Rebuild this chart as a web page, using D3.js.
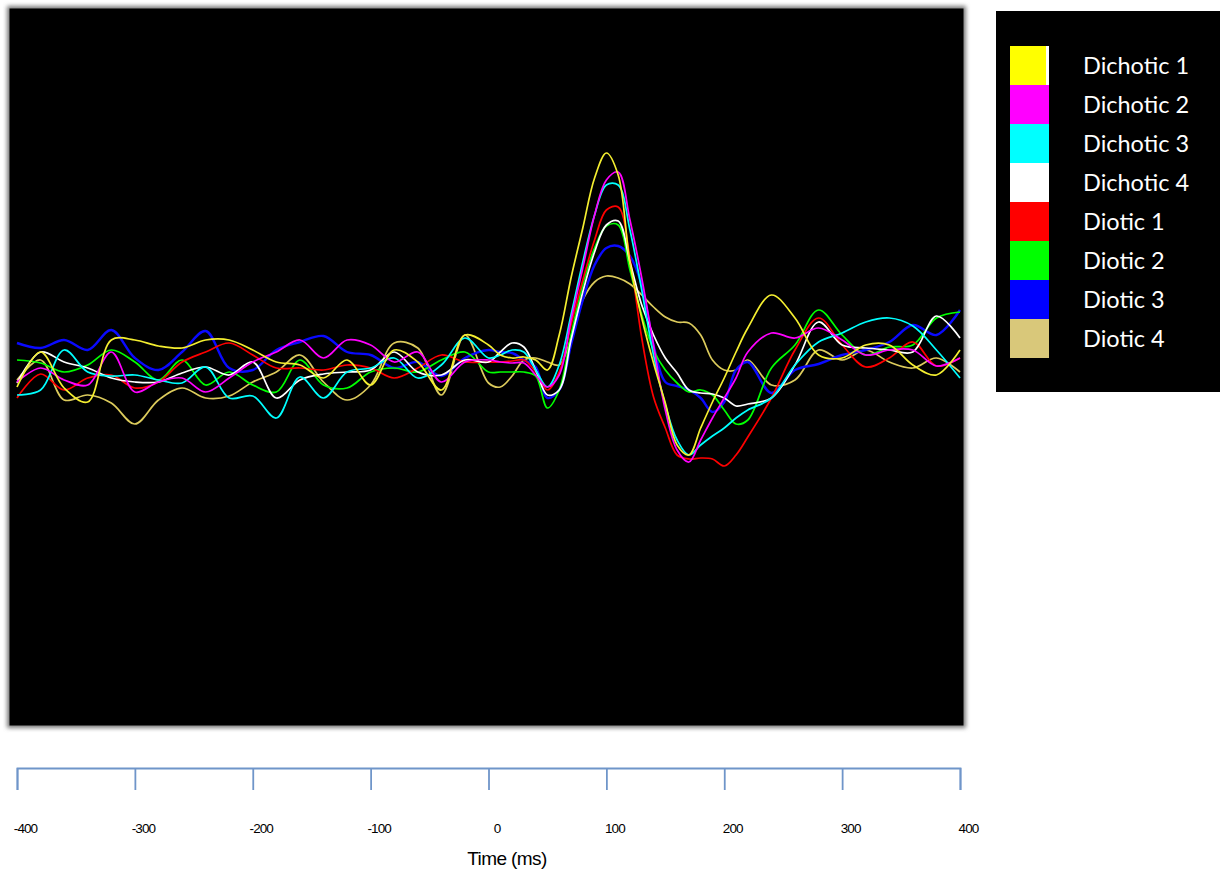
<!DOCTYPE html>
<html>
<head>
<meta charset="utf-8">
<script src="https://cdn.jsdelivr.net/npm/d3@7"></script>
<style>
  html, body { margin: 0; padding: 0; background: #ffffff; }
  svg { display: block; }
</style>
</head>
<body>
<svg id="chart" width="1226" height="873"></svg>
<script>
// ---------------- DATA ----------------
const times = [-400,-380,-360,-340,-320,-300,-280,-260,-240,-220,-200,-180,-160,-140,-120,-100,-80,-60,-40,-20,0,
  10,20,30,40,50,60,70,80,90,100,110,120,130,140,150,160,170,180,190,200,210,220,
  240,260,280,300,320,340,360,380,400];

const seriesNames = ["Dichotic 1","Dichotic 2","Dichotic 3","Dichotic 4","Diotic 1","Diotic 2","Diotic 3","Diotic 4"];

const dichotic1 = [-1.7,1.8,-1.8,-3.2,3.0,3.0,2.4,2.2,3.0,3.0,2.0,0.8,0.5,-0.8,1.0,-1.5,2.0,0.8,-2.0,3.5,2.5,
  1.5,1.2,1.3,1.0,0.0,3.5,9.2,14.2,19.2,21.7,19.5,10.7,5.2,0.7,-3.3,-7.5,-8.5,-5.8,-3.2,-0.8,1.8,4.2,
  7.5,5.2,1.5,1.2,2.5,2.5,0.5,-0.5,2.0];
const dichotic2 = [-1.2,0.2,-1.0,-1.5,1.8,-2.2,-1.2,-0.8,-2.2,-0.8,0.8,1.8,3.0,1.2,3.0,2.5,0.8,1.8,-1.2,0.8,1.0,
  0.8,0.7,0.7,-0.5,-1.7,-0.5,5.0,10.2,15.5,19.0,19.8,15.0,9.2,2.5,-4.0,-8.0,-9.2,-7.0,-4.8,-2.8,-0.8,1.8,
  3.7,3.2,4.2,3.0,1.5,2.0,2.0,0.4,1.2];
const dichotic3 = [-2.5,-2.0,2.0,-0.2,-0.6,-0.5,-1.0,-1.3,0.3,-2.8,-2.6,-4.8,-0.7,-2.8,-0.2,0.2,1.2,-0.8,0.5,3.2,1.2,
  1.5,2.0,1.8,0.0,-1.7,0.5,5.5,10.8,15.5,18.5,18.5,14.0,8.0,1.5,-3.5,-7.0,-8.5,-7.5,-6.6,-5.8,-4.8,-4.0,
  -2.8,0.5,2.8,3.7,4.8,5.2,4.4,2.0,-0.8];
const dichotic4 = [-1.3,1.8,0.8,0.2,-0.8,-1.2,-1.2,-0.3,0.3,-0.5,0.8,-2.8,-1.0,-0.4,-0.2,0.0,1.8,-0.2,-0.5,1.0,0.8,
  1.8,2.7,2.3,0.0,-2.5,-2.0,3.0,7.8,11.8,14.5,14.9,10.8,6.5,3.5,1.2,-0.3,-2.0,-2.3,-2.4,-2.8,-3.6,-3.4,
  -2.8,0.5,4.8,2.5,2.2,2.0,1.8,5.4,3.2];
const diotic1 = [-2.8,-0.4,-2.0,-0.8,-0.5,-1.8,-1.2,0.8,1.8,2.7,1.5,0.2,0.2,0.0,0.5,0.2,-0.8,0.2,1.5,0.8,0.8,
  0.8,0.9,1.0,-0.2,-2.0,-0.2,4.5,9.0,13.0,16.0,16.3,11.2,3.2,-2.7,-5.8,-8.5,-8.9,-8.8,-8.9,-9.6,-8.5,-6.7,
  -2.8,2.0,5.2,2.5,0.3,1.2,2.8,0.4,1.2];
const diotic2 = [1.0,0.7,-0.2,0.5,2.0,0.8,-1.0,1.0,-1.5,-0.2,-1.5,-2.2,1.0,-1.5,-1.8,-0.2,0.2,-0.2,1.0,1.8,-0.2,
  -0.2,-0.2,-0.2,-0.6,-3.8,-2.0,3.5,8.5,12.2,14.4,14.5,10.0,5.5,2.0,0.0,-1.3,-2.2,-2.0,-2.5,-4.0,-5.4,-5.0,
  0.2,2.5,6.0,3.5,1.5,2.3,2.5,5.2,5.8];
const diotic3 = [2.7,2.2,3.0,2.0,4.0,1.2,0.0,1.8,3.9,0.2,0.0,2.0,2.8,3.4,1.8,1.5,0.2,0.8,-0.6,1.2,2.0,
  1.8,1.7,1.0,0.3,-2.8,-2.0,2.5,7.0,10.5,12.2,12.4,11.4,8.5,2.5,-1.2,-1.6,-2.0,-2.8,-4.2,-3.2,0.0,0.8,
  -2.3,0.0,0.6,1.5,2.0,2.8,4.5,3.5,6.0];
const diotic4 = [-1.0,1.0,-3.0,-2.5,-3.3,-5.4,-3.0,-1.8,-2.8,-2.6,-1.2,-0.2,1.5,-1.2,-3.0,-1.5,2.7,2.2,-2.5,3.5,-1.3,
  -1.7,-0.6,1.0,1.2,0.8,0.5,3.2,7.0,8.8,9.4,9.2,8.6,7.5,6.3,5.3,4.8,4.7,3.5,1.0,0.0,0.0,1.0,
  -1.5,-1.0,2.0,1.0,2.0,0.8,0.2,1.2,-0.2];

const tickValues = [-400,-300,-200,-100,0,100,200,300,400];
const xLabel = "Time (ms)";

// ---------------- STYLE ----------------
const lineColors = ["#f4ee30","#ff00ff","#00ffff","#ffffff","#ff0000","#00ff00","#0a0aff","#dccb5c"];
const swatchColors = ["#ffff00","#ff00ff","#00ffff","#ffffff","#ff0000","#00ff00","#0000ff","#d9c87a"];

const allSeries = [dichotic1,dichotic2,dichotic3,dichotic4,diotic1,diotic2,diotic3,diotic4];

// ---------------- CHART ----------------
const svg = d3.select("#chart");
const plot = {x: 8, y: 7, w: 957, h: 720};

const x = d3.scaleLinear().domain([-400, 400]).range([17, 960]);
const y = d3.scaleLinear().domain([-35.7, 36.3]).range([727, 7]);

const defs = svg.append("defs");
const blur = defs.append("filter").attr("id","edge").attr("x","-5%").attr("y","-5%").attr("width","110%").attr("height","110%");
blur.append("feGaussianBlur").attr("stdDeviation", 2.2);
defs.append("clipPath").attr("id","clip")
  .append("rect").attr("x", plot.x + 1).attr("y", plot.y + 1).attr("width", plot.w - 2).attr("height", plot.h - 2);

// blurred gray frame
svg.append("rect")
  .attr("x", plot.x - 1).attr("y", plot.y - 1)
  .attr("width", plot.w + 2).attr("height", plot.h + 2)
  .attr("fill", "#7a7a7a").attr("filter", "url(#edge)");
svg.append("rect")
  .attr("x", plot.x + 1.5).attr("y", plot.y + 1.5)
  .attr("width", plot.w - 3).attr("height", plot.h - 3)
  .attr("fill", "#000");

const line = d3.line()
  .x((d, i) => x(times[i]))
  .y(d => y(d))
  .curve(d3.curveCatmullRom.alpha(0.5));

const drawOrder = [7, 6, 5, 4, 3, 2, 1, 0];
const gLines = svg.append("g").attr("clip-path", "url(#clip)");
drawOrder.forEach(k => {
  gLines.append("path")
    .datum(allSeries[k])
    .attr("d", line)
    .attr("fill", "none")
    .attr("stroke", lineColors[k])
    .attr("stroke-width", k === 6 ? 2.4 : 1.7)
    .attr("stroke-linejoin", "round");
});

// ---------------- AXIS ----------------
const axis = d3.axisBottom(x)
  .tickValues(tickValues)
  .tickSize(22)
  .tickSizeOuter(22)
  .tickFormat(d3.format("d"));

const gAxis = svg.append("g")
  .attr("transform", "translate(0,768)")
  .call(axis);
gAxis.select(".domain").attr("stroke", "#6f95c9").attr("stroke-width", 1.8);
gAxis.selectAll(".tick line").attr("stroke", "#6f95c9").attr("stroke-width", 1.8);
gAxis.selectAll(".tick text")
  .attr("y", 55)
  .attr("dx", 8)
  .attr("fill", "#000")
  .style("font-family", "'Liberation Sans', Arial, sans-serif")
  .style("font-size", "13.5px")
  .style("letter-spacing", "-0.9px")
  .text(d => d < 0 ? "-" + Math.abs(d) : String(d));

svg.append("text")
  .attr("x", 507).attr("y", 865)
  .attr("text-anchor", "middle")
  .style("font-family", "'Liberation Sans', Arial, sans-serif")
  .style("font-size", "19px")
  .style("letter-spacing", "-0.6px")
  .attr("fill", "#000")
  .text(xLabel);

// ---------------- LEGEND ----------------
const legend = svg.append("g");
legend.append("rect")
  .attr("x", 996).attr("y", 11).attr("width", 224).attr("height", 381)
  .attr("fill", "#000");

const ly = d3.scaleBand().domain(seriesNames).range([46, 358]).padding(0);
seriesNames.forEach((name, i) => {
  legend.append("rect")
    .attr("x", 1010).attr("y", ly(name))
    .attr("width", 39).attr("height", ly.bandwidth())
    .attr("fill", swatchColors[i]);
  legend.append("text")
    .attr("x", 1083).attr("y", ly(name) + ly.bandwidth() / 2)
    .attr("dy", "0.36em")
    .attr("fill", "#fff")
    .style("font-family", "Lato, 'Open Sans', sans-serif")
    .style("font-size", "23.5px")
    .text(name);
});
// thin white strip on first swatch
legend.append("rect")
  .attr("x", 1046).attr("y", ly(seriesNames[0]))
  .attr("width", 3).attr("height", ly.bandwidth())
  .attr("fill", "#fff");
</script>
</body>
</html>
